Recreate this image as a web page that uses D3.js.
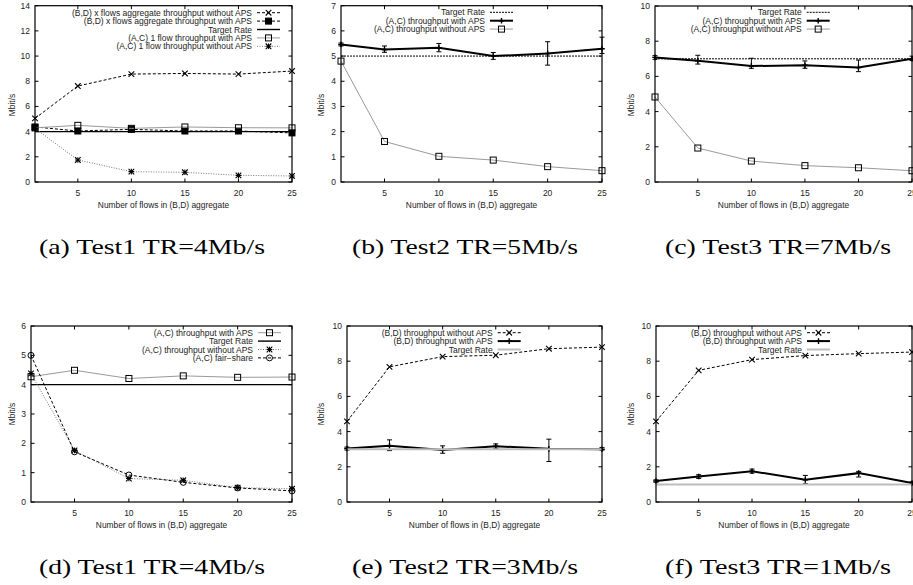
<!DOCTYPE html>
<html>
<head>
<meta charset="utf-8">
<script src="https://d3js.org/d3.v7.min.js"></script>
<style>
  body { margin: 0; background: #fff; }
  svg text { font-family: "Liberation Sans", Arial, sans-serif; fill: #222; }
  .caption { font-family: "Liberation Serif", "DejaVu Serif", serif; fill: #000; }
</style>
</head>
<body>
<svg id="fig" width="913" height="585"></svg>
<script>
// ---- data ----
var flows = [1, 5, 10, 15, 20, 25];
var xTicks = [5, 10, 15, 20, 25];

// (a) Test1 TR=4
var aBDwithout = [5.05, 7.62, 8.57, 8.62, 8.57, 8.81];
var aBDwith    = [4.37, 4.05, 4.18, 4.05, 4.05, 3.90];
var aACwith    = [4.30, 4.50, 4.26, 4.37, 4.31, 4.30];
var aACwithout = [4.26, 1.75, 0.82, 0.77, 0.53, 0.48];

// (b) Test2 TR=5
var bACwith    = [5.46, 5.26, 5.33, 5.00, 5.10, 5.29];
var bACwithLo  = [5.40, 5.15, 5.17, 4.87, 4.64, 5.10];
var bACwithHi  = [5.52, 5.40, 5.50, 5.14, 5.57, 5.75];
var bACwithout = [4.80, 1.61, 1.02, 0.87, 0.61, 0.45];

// (c) Test3 TR=7
var cACwith    = [7.08, 6.89, 6.59, 6.63, 6.50, 7.00];
var cACwithLo  = [6.97, 6.70, 6.46, 6.46, 6.27, 6.90];
var cACwithHi  = [7.18, 7.20, 7.03, 6.88, 6.93, 7.15];
var cACwithout = [4.83, 1.93, 1.19, 0.93, 0.81, 0.64];

// (d) Test1 TR=4
var dACwith    = [4.27, 4.49, 4.21, 4.30, 4.25, 4.26];
var dACwithout = [4.38, 1.76, 0.80, 0.74, 0.49, 0.45];
var dFair      = [5.00, 1.71, 0.92, 0.67, 0.48, 0.38];

// (e) Test2 TR=3
var eBDwithout = [4.58, 7.68, 8.26, 8.34, 8.71, 8.80];
var eBDwith    = [3.04, 3.19, 2.96, 3.17, 3.02, 3.00];
var eBDwithLo  = [2.95, 2.92, 2.77, 3.04, 2.30, 2.95];
var eBDwithHi  = [3.12, 3.53, 3.19, 3.30, 3.57, 3.10];

// (f) Test3 TR=1
var fBDwithout = [4.58, 7.48, 8.09, 8.32, 8.43, 8.52];
var fBDwith    = [1.19, 1.45, 1.75, 1.26, 1.64, 1.08];
var fBDwithLo  = [1.12, 1.34, 1.64, 1.04, 1.42, 1.00];
var fBDwithHi  = [1.26, 1.55, 1.87, 1.51, 1.74, 1.15];

var targets = {a: 4, b: 5, c: 7, d: 4, e: 3, f: 1};
var captions = ["(a) Test1 TR=4Mb/s", "(b) Test2 TR=5Mb/s", "(c) Test3 TR=7Mb/s",
                "(d) Test1 TR=4Mb/s", "(e) Test2 TR=3Mb/s", "(f) Test3 TR=1Mb/s"];

// line styles (gnuplot-ish)
var styles = {
  blackDash:  {stroke: "#000", width: 1,   dash: "3,2"},
  blackSolid: {stroke: "#000", width: 1.4, dash: null},
  blackDot:   {stroke: "#000", width: 1,   dash: "2,1"},
  thick:      {stroke: "#000", width: 2,   dash: null},
  graySolid:  {stroke: "#9a9a9a", width: 1, dash: null},
  grayDot:    {stroke: "#777", width: 1,   dash: "1,1.5"},
  grayThick:  {stroke: "#bdbdbd", width: 2, dash: null}
};

function flat(v) { return flows.map(function() { return v; }); }

var panels = [
  {id: "a", box: [35, 292, 5.7, 182], ymax: 14, ystep: 2, ylabX: 12, ylabY: 105, textEnd: 252, legTop: 12.7, capX: 152, capY: 254,
   series: [
    {label: "(B,D) x flows aggregate throughput without APS", v: aBDwithout, st: "blackDash", mk: "x"},
    {label: "(B,D) x flows aggregate throughput with APS", v: aBDwith, st: "blackDash", mk: "sqFill"},
    {label: "Target Rate", v: flat(targets.a), st: "blackSolid", mk: null},
    {label: "(A,C) 1 flow throughput with APS", v: aACwith, st: "graySolid", mk: "sqOpen"},
    {label: "(A,C) 1 flow throughput without APS", v: aACwithout, st: "grayDot", mk: "star"}
   ]},
  {id: "b", box: [341, 602, 5.7, 182], ymax: 7, ystep: 1, ylabX: 320.7, ylabY: 105, textEnd: 485, legTop: 12.3, capX: 465, capY: 254,
   series: [
    {label: "Target Rate", v: flat(targets.b), st: "blackDot", mk: null},
    {label: "(A,C) throughput with APS", v: bACwith, lo: bACwithLo, hi: bACwithHi, st: "thick", mk: "plus"},
    {label: "(A,C) throughput without APS", v: bACwithout, st: "graySolid", mk: "sqOpen"}
   ]},
  {id: "c", box: [655, 912, 6, 182], ymax: 10, ystep: 2, ylabX: 630.7, ylabY: 105, textEnd: 801.7, legTop: 12.3, capX: 778, capY: 254,
   series: [
    {label: "Target Rate", v: flat(targets.c), st: "blackDot", mk: null},
    {label: "(A,C) throughput with APS", v: cACwith, lo: cACwithLo, hi: cACwithHi, st: "thick", mk: "plus"},
    {label: "(A,C) throughput without APS", v: cACwithout, st: "graySolid", mk: "sqOpen"}
   ]},
  {id: "d", box: [31, 292, 326, 502], ymax: 6, ystep: 1, ylabX: 12, ylabY: 414, textEnd: 253, legTop: 332.7, capX: 152, capY: 574,
   series: [
    {label: "(A,C) throughput with APS", v: dACwith, st: "graySolid", mk: "sqOpen"},
    {label: "Target Rate", v: flat(targets.d), st: "blackSolid", mk: null},
    {label: "(A,C) throughput without APS", v: dACwithout, st: "grayDot", mk: "star"},
    {label: "(A,C) fair\u2212share", v: dFair, st: "blackDash", mk: "circle"}
   ]},
  {id: "e", box: [347, 602, 326, 502], ymax: 10, ystep: 2, ylabX: 320.7, ylabY: 414, textEnd: 492.7, legTop: 332.7, capX: 465, capY: 574,
   series: [
    {label: "(B,D) throughput without APS", v: eBDwithout, st: "blackDash", mk: "x"},
    {label: "(B,D) throughput with APS", v: eBDwith, lo: eBDwithLo, hi: eBDwithHi, st: "thick", mk: "plus"},
    {label: "Target Rate", v: flat(targets.e), st: "grayThick", mk: null}
   ]},
  {id: "f", box: [656, 912, 326, 502], ymax: 10, ystep: 2, ylabX: 630.7, ylabY: 414, textEnd: 802, legTop: 332.7, capX: 778, capY: 574,
   series: [
    {label: "(B,D) throughput without APS", v: fBDwithout, st: "blackDash", mk: "x"},
    {label: "(B,D) throughput with APS", v: fBDwith, lo: fBDwithLo, hi: fBDwithHi, st: "thick", mk: "plus"},
    {label: "Target Rate", v: flat(targets.f), st: "grayThick", mk: null}
   ]}
];

var svg = d3.select("#fig");

function applyStyle(sel, st) {
  var s = styles[st];
  sel.attr("fill", "none").attr("stroke", s.stroke).attr("stroke-width", s.width);
  if (s.dash) sel.attr("stroke-dasharray", s.dash);
  return sel;
}

function drawMarker(g, kind, cx, cy) {
  var h = 2.8;
  if (kind === "x" || kind === "star") {
    g.append("path").attr("d", "M" + (cx - h) + "," + (cy - h) + "L" + (cx + h) + "," + (cy + h) +
      "M" + (cx - h) + "," + (cy + h) + "L" + (cx + h) + "," + (cy - h))
      .attr("stroke", "#000").attr("stroke-width", 1.1).attr("fill", "none");
  }
  if (kind === "plus" || kind === "star") {
    g.append("path").attr("d", "M" + (cx - h) + "," + cy + "L" + (cx + h) + "," + cy +
      "M" + cx + "," + (cy - h) + "L" + cx + "," + (cy + h))
      .attr("stroke", "#000").attr("stroke-width", kind === "star" ? 1.1 : 1.4).attr("fill", "none");
  }
  if (kind === "sqFill" || kind === "sqOpen") {
    g.append("rect").attr("x", cx - 3).attr("y", cy - 3).attr("width", 6).attr("height", 6)
      .attr("fill", kind === "sqFill" ? "#000" : "none")
      .attr("stroke", "#000").attr("stroke-width", 1);
  }
  if (kind === "circle") {
    g.append("circle").attr("cx", cx).attr("cy", cy).attr("r", 3)
      .attr("fill", "none").attr("stroke", "#000").attr("stroke-width", 1);
  }
}

panels.forEach(function(p, pi) {
  var L = p.box[0], R = p.box[1], T = p.box[2], B = p.box[3];
  var x = d3.scaleLinear().domain([1, 25]).range([L, R]);
  var y = d3.scaleLinear().domain([0, p.ymax]).range([B, T]);
  var g = svg.append("g").attr("class", "panel-" + p.id);
  var yTicks = d3.range(0, p.ymax + 0.001, p.ystep);

  // inward ticks, mirrored on top / right
  var tk = 3.5;
  xTicks.forEach(function(t) {
    g.append("line").attr("x1", x(t)).attr("x2", x(t)).attr("y1", B).attr("y2", B - tk).attr("stroke", "#000");
    g.append("line").attr("x1", x(t)).attr("x2", x(t)).attr("y1", T).attr("y2", T + tk).attr("stroke", "#000");
    g.append("text").attr("x", x(t)).attr("y", B + 13.8).attr("text-anchor", "middle")
      .attr("font-size", "8.5px").text(t);
  });
  yTicks.forEach(function(t) {
    g.append("line").attr("x1", L).attr("x2", L + tk).attr("y1", y(t)).attr("y2", y(t)).attr("stroke", "#000");
    g.append("line").attr("x1", R).attr("x2", R - tk).attr("y1", y(t)).attr("y2", y(t)).attr("stroke", "#000");
    g.append("text").attr("x", L - 5).attr("y", y(t) + 3).attr("text-anchor", "end")
      .attr("font-size", "8.5px").text(t);
  });

  // axis titles
  g.append("text").attr("x", (L + R) / 2).attr("y", B + 25.5).attr("text-anchor", "middle")
    .attr("font-size", "8.4px").text("Number of flows in (B,D) aggregate");
  g.append("text").attr("transform", "translate(" + (p.ylabX + 3) + "," + p.ylabY + ") rotate(-90)")
    .attr("text-anchor", "middle").attr("font-size", "8.4px").text("Mbit/s");

  // series
  var line = d3.line().x(function(d) { return x(d[0]); }).y(function(d) { return y(d[1]); });
  p.series.forEach(function(s, si) {
    var pts = flows.map(function(f, i) { return [f, s.v[i]]; });
    applyStyle(g.append("path").attr("d", line(pts)), s.st);
    if (s.lo) {
      flows.forEach(function(f, i) {
        var cx = x(f);
        g.append("path").attr("d", "M" + cx + "," + y(s.lo[i]) + "L" + cx + "," + y(s.hi[i]) +
          "M" + (cx - 2.5) + "," + y(s.lo[i]) + "L" + (cx + 2.5) + "," + y(s.lo[i]) +
          "M" + (cx - 2.5) + "," + y(s.hi[i]) + "L" + (cx + 2.5) + "," + y(s.hi[i]))
          .attr("stroke", "#000").attr("stroke-width", 1).attr("fill", "none");
      });
    }
    if (s.mk) pts.forEach(function(d) { drawMarker(g, s.mk, x(d[0]), y(d[1])); });

    // legend row
    var ly = p.legTop + si * 8.4;
    g.append("text").attr("x", p.textEnd).attr("y", ly + 3).attr("text-anchor", "end")
      .attr("font-size", "8.5px").text(s.label);
    var x0 = p.textEnd + 5, x1 = p.textEnd + 28;
    applyStyle(g.append("line").attr("x1", x0).attr("x2", x1).attr("y1", ly).attr("y2", ly), s.st);
    if (s.mk) drawMarker(g, s.mk, (x0 + x1) / 2, ly);
  });

  // frame
  g.append("rect").attr("x", L).attr("y", T).attr("width", R - L).attr("height", B - T)
    .attr("fill", "none").attr("stroke", "#000").attr("stroke-width", 1.2);

  // caption
  svg.append("text").attr("class", "caption").attr("x", p.capX).attr("y", p.capY)
    .attr("text-anchor", "middle").attr("font-size", "21px")
    .attr("textLength", 226).attr("lengthAdjust", "spacingAndGlyphs")
    .text(captions[pi]);
});
</script>
</body>
</html>
